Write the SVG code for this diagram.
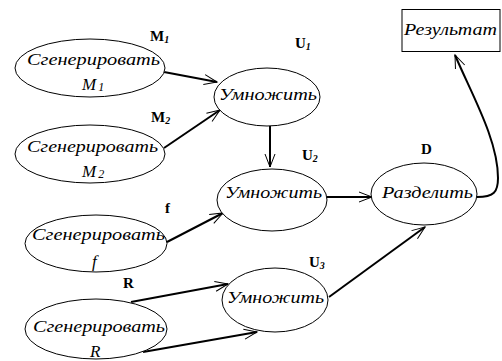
<svg xmlns="http://www.w3.org/2000/svg" width="502" height="361" viewBox="0 0 502 361">
<style>
.n{fill:#fff;stroke:#000;stroke-width:1}
.t{font-family:"Liberation Serif",serif;font-style:italic;font-size:17px;fill:#000}
.l{font-family:"Liberation Serif",serif;font-weight:bold;font-size:15px;fill:#000}
.s{font-size:10px;font-style:italic}
.e{fill:none;stroke:#000;stroke-width:2}
</style>
<defs>
<marker id="a" viewBox="-14 -7 16 14" refX="0" refY="0" markerWidth="16" markerHeight="14" markerUnits="userSpaceOnUse" orient="auto">
<path d="M-13,-5 L0,0 L-13,5" fill="none" stroke="#000" stroke-width="1"/>
</marker>
</defs>
<rect width="502" height="361" fill="#fff"/>
<g id="connectors">
<path class="e" d="M164,72 L217,82" marker-end="url(#a)"/>
<path class="e" d="M164,148 L220,110" marker-end="url(#a)"/>
<path class="e" d="M270,126 L270,167" marker-end="url(#a)"/>
<path class="e" d="M167,242 L223,213" marker-end="url(#a)"/>
<path class="e" d="M131,302 L228,284" marker-end="url(#a)"/>
<path class="e" d="M143,352 L257,332" marker-end="url(#a)"/>
<path class="e" d="M327,197 L372,197" marker-end="url(#a)"/>
<path class="e" d="M329,297 L425,227" marker-end="url(#a)"/>
<path class="e" d="M477,197 C494,197 498,192 498,178 C498,140 472,95 455,55" marker-end="url(#a)"/>
</g>
<g id="genM1">
<ellipse class="n" cx="90" cy="68" rx="75" ry="29"/>
<text class="t" x="27" y="65" textLength="133" lengthAdjust="spacingAndGlyphs">Сгенерировать</text>
<text class="t" x="82" y="90">M<tspan font-size="12" dx="2" dy="1">1</tspan></text>
</g>
<g id="genM2">
<ellipse class="n" cx="90" cy="154" rx="75" ry="29"/>
<text class="t" x="27" y="152" textLength="131" lengthAdjust="spacingAndGlyphs">Сгенерировать</text>
<text class="t" x="82" y="177">M<tspan font-size="12" dx="2" dy="1">2</tspan></text>
</g>
<g id="genF">
<ellipse class="n" cx="96" cy="243.5" rx="71" ry="28.5"/>
<text class="t" x="32" y="240" textLength="133" lengthAdjust="spacingAndGlyphs">Сгенерировать</text>
<text class="t" x="92" y="267">f</text>
</g>
<g id="genR">
<ellipse class="n" cx="96" cy="329" rx="71" ry="30"/>
<text class="t" x="33" y="332" textLength="132" lengthAdjust="spacingAndGlyphs">Сгенерировать</text>
<text class="t" x="90" y="357">R</text>
</g>
<g id="mulU1">
<ellipse class="n" cx="267" cy="97" rx="53" ry="29"/>
<text class="t" x="219" y="100" textLength="98" lengthAdjust="spacingAndGlyphs">Умножить</text>
</g>
<g id="mulU2">
<ellipse class="n" cx="272" cy="200" rx="55" ry="31"/>
<text class="t" x="225" y="198" textLength="97" lengthAdjust="spacingAndGlyphs">Умножить</text>
</g>
<g id="mulU3">
<ellipse class="n" cx="275" cy="300" rx="53" ry="32"/>
<text class="t" x="227" y="303" textLength="97" lengthAdjust="spacingAndGlyphs">Умножить</text>
</g>
<g id="divD">
<ellipse class="n" cx="424" cy="194" rx="53" ry="31"/>
<text class="t" x="382" y="198" textLength="91" lengthAdjust="spacingAndGlyphs">Разделить</text>
</g>
<g id="result">
<rect class="n" x="402" y="9.5" width="98" height="42"/>
<text class="t" x="404" y="35" textLength="93" lengthAdjust="spacingAndGlyphs">Результат</text>
</g>
<g id="labels">
<text class="l" x="150" y="41">M<tspan class="s" dy="2">1</tspan></text>
<text class="l" x="151" y="122">M<tspan class="s" font-style="normal" dy="2">2</tspan></text>
<text class="l" x="165" y="213">f</text>
<text class="l" x="123" y="288">R</text>
<text class="l" x="295" y="48">U<tspan class="s" dy="2">1</tspan></text>
<text class="l" x="302" y="160">U<tspan class="s" font-style="normal" dy="2">2</tspan></text>
<text class="l" x="309" y="267">U<tspan class="s" font-style="normal" dy="2">3</tspan></text>
<text class="l" x="421" y="154">D</text>
</g>
</svg>
